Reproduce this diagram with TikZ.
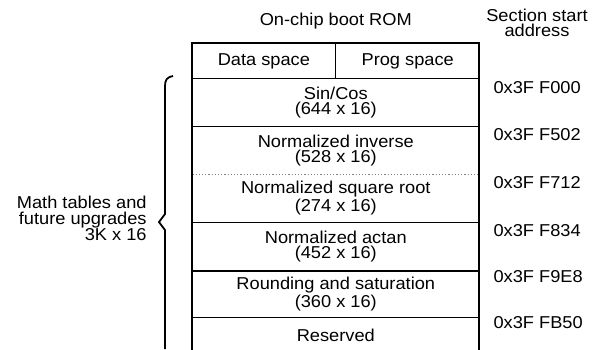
\documentclass[tikz,border=0pt]{standalone}
\usepackage{fontspec}
\setmainfont{Liberation Sans}[FakeStretch=1.06]
\usetikzlibrary{positioning, calc}
\newcommand{\memfont}{\fontsize{8.6}{7.6}\selectfont}
\newcommand{\notefont}{\fontsize{8.6}{8}\selectfont}

\begin{document}
\begin{tikzpicture}[x=0.5pt, y=-0.5pt,
      cell/.style={minimum width=71.5pt, minimum height=17.5pt, inner sep=0pt,
                   font=\memfont},
      region/.style={minimum width=143pt, inner sep=0pt, align=center,
                     font=\memfont},
      addr/.style={inner sep=0pt, font=\memfont},
      note/.style={inner sep=0pt, align=right, font=\notefont},
      sep/.style={line width=0.6pt},
      frame/.style={line width=1.2pt},
    ]
      \useasboundingbox (0,0) rectangle (600,349);

      % ROM header and regions
      \node[cell, anchor=north west] (data) at (192,43) {Data space};
      \node[cell, right=0pt of data] (prog) {Prog space};
      \node[region, minimum height=23.5pt, below=0pt of data.south east] (sincos)
            {Sin/Cos\\(644 x 16)};
      \node[region, minimum height=23.5pt, below=0pt of sincos] (inverse)
            {Normalized inverse\\(528 x 16)};
      \node[region, minimum height=23.5pt, below=0pt of inverse] (sqroot)
            {Normalized square root\\(274 x 16)};
      \node[region, minimum height=24pt, below=0pt of sqroot] (actan)
            {Normalized actan\\(452 x 16)};
      \node[region, minimum height=23pt, below=0pt of actan] (rounding)
            {Rounding and saturation\\(360 x 16)};
      \node[region, minimum height=17.5pt, below=0pt of rounding] (reserved) {Reserved};

      \draw[sep] (data.north east) -- (data.south east);
      \draw[sep] (data.south west) -- (prog.south east);
      \draw[sep] (sincos.south west) -- (sincos.south east);
      \draw[sep, densely dotted, gray] (inverse.south west) -- (inverse.south east);
      \draw[sep] (sqroot.south west) -- (sqroot.south east);
      \draw[sep] (actan.south west) -- (actan.south east);
      \draw[sep] (rounding.south west) -- (rounding.south east);
      \draw[frame] (data.north west) rectangle (reserved.south east);

      % titles
      \node[addr, above=7pt of data.north east] (rom) {On-chip boot ROM};
      \node[addr, align=center] (sect) at (537,23) {Section start\\address};

      % start addresses
      \node[addr, right=7pt of sincos.north east, yshift=-4.5pt] (a0) {0x3F F000};
      \node[addr, right=7pt of inverse.north east, yshift=-4pt] (a1) {0x3F F502};
      \node[addr, right=7pt of sqroot.north east, yshift=-4pt] (a2) {0x3F F712};
      \node[addr, right=7pt of actan.north east, yshift=-4pt] (a3) {0x3F F834};
      \node[addr, right=7pt of rounding.north east, yshift=-3pt] (a4) {0x3F F9E8};
      \node[addr, right=7pt of reserved.north east, yshift=-2.5pt] (a5) {0x3F FB50};

      % brace for the math tables
      \coordinate (tip) at (159,222);
      \draw[line width=0.9pt] (173,76) .. controls (167,77) and (165,80) .. (165,86)
            -- (165,214) -- (tip) -- (165,230) -- (165,349);
      \node[note, left=6pt of tip, yshift=2pt] (math)
            {Math tables and\\future upgrades\\3K x 16};
    \end{tikzpicture}
\end{document}
